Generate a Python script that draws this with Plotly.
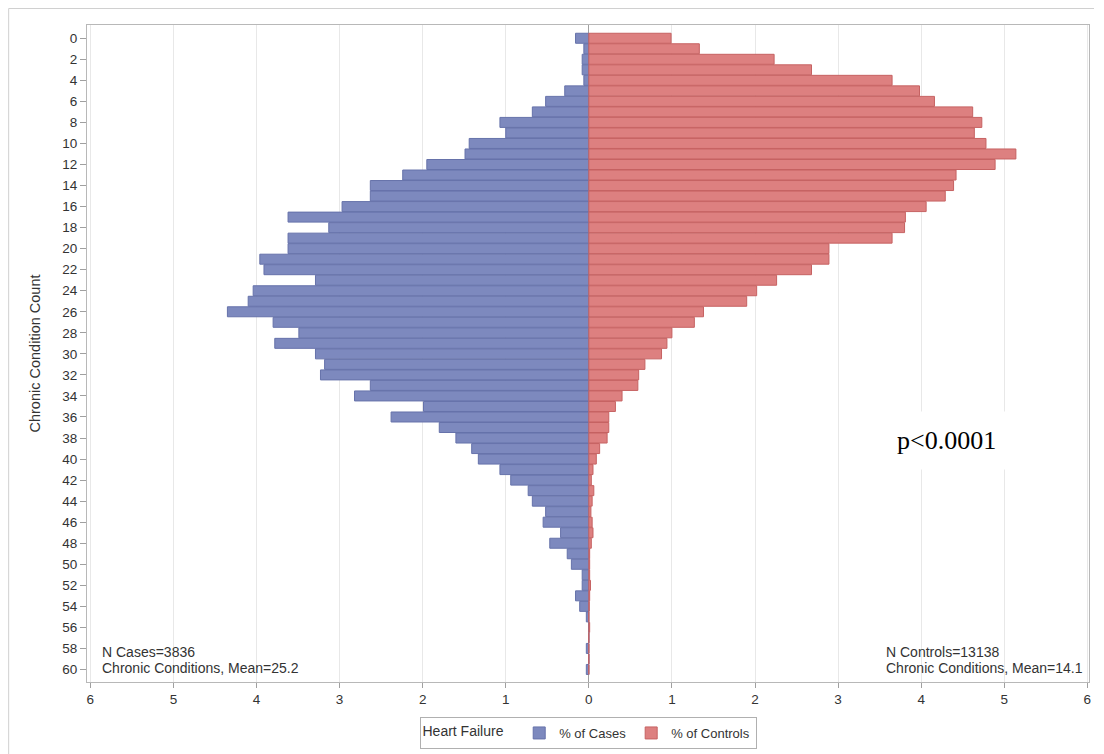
import plotly.graph_objects as go

counts = list(range(0, 61))

pct_cases = [0.16, 0.06, 0.08, 0.08, 0.06, 0.29, 0.52, 0.68, 1.07, 1.00,
             1.44, 1.49, 1.95, 2.24, 2.63, 2.63, 2.97, 3.62, 3.13, 3.62,
             3.62, 3.96, 3.91, 3.29, 4.04, 4.10, 4.35, 3.80, 3.49, 3.78,
             3.29, 3.18, 3.23, 2.63, 2.82, 1.99, 2.38, 1.80, 1.60, 1.41,
             1.33, 1.07, 0.94, 0.73, 0.68, 0.52, 0.55, 0.34, 0.47, 0.26,
             0.21, 0.08, 0.08, 0.16, 0.11, 0.03, 0.0, 0.0, 0.03, 0.0,
             0.03]

pct_controls = [0.99, 1.33, 2.23, 2.68, 3.65, 3.98, 4.16, 4.62, 4.73, 4.64,
                4.78, 5.14, 4.89, 4.42, 4.39, 4.29, 4.06, 3.81, 3.80, 3.65,
                2.89, 2.89, 2.68, 2.26, 2.02, 1.90, 1.38, 1.27, 1.00, 0.94,
                0.875, 0.675, 0.60, 0.59, 0.40, 0.32, 0.24, 0.24, 0.22, 0.13,
                0.09, 0.05, 0.03, 0.06, 0.04, 0.025, 0.04, 0.05, 0.03, 0.01,
                0.01, 0.01, 0.02, 0.01, 0.005, 0.0, 0.01, 0.0, 0.0, 0.0,
                0.0]

x_ticks = [-6, -5, -4, -3, -2, -1, 0, 1, 2, 3, 4, 5, 6]
x_tick_labels = [str(abs(v)) for v in x_ticks]
y_ticks = list(range(0, 61, 2))

FONT = "Liberation Sans, Arial, sans-serif"

# page has an 8px body margin; figure sized accordingly
W, H = 1088, 746
ML, MR, MT, MB = 79, 5, 17, 72
PW = W - ML - MR
PH = H - MT - MB

fig = go.Figure()
fig.add_trace(go.Bar(
    y=counts, x=[-v for v in pct_cases], orientation="h", name="% of Cases",
    marker=dict(color="#7d89be", line=dict(color="#6672aa", width=1)),
    width=0.95,
))
fig.add_trace(go.Bar(
    y=counts, x=pct_controls, orientation="h", name="% of Controls",
    marker=dict(color="#dd8080", line=dict(color="#c66262", width=1)),
    width=0.95,
))

fig.update_layout(
    width=W, height=H,
    margin=dict(l=ML, r=MR, t=MT, b=MB),
    barmode="overlay",
    bargap=0.05,
    plot_bgcolor="white", paper_bgcolor="white",
    font=dict(family=FONT, size=12, color="#333333"),
    showlegend=True,
    legend=dict(
        orientation="h", x=0.5, xanchor="center", y=-35 / PH, yanchor="top",
        title=dict(text="Heart Failure  ", side="left", font=dict(size=14, color="#333333")),
        bordercolor="#b0b0b0", borderwidth=1, bgcolor="white",
        font=dict(size=13, color="#333333"),
        itemwidth=30,
    ),
    xaxis=dict(
        range=[-6.04, 6.02], tickvals=x_ticks, ticktext=x_tick_labels,
        showgrid=True, gridcolor="#e8e8e8", gridwidth=1,
        zeroline=True, zerolinecolor="#a0a0a0", zerolinewidth=1,
        ticks="outside", ticklen=5, tickcolor="#a0a0a0",
        showline=True, linecolor="#b8b8b8", mirror=True,
        tickfont=dict(size=13.5, color="#333333"),
    ),
    yaxis=dict(
        range=[61.19, -1.26], tickvals=y_ticks,
        showgrid=False, zeroline=False,
        ticks="outside", ticklen=6, tickcolor="#a0a0a0",
        showline=True, linecolor="#b8b8b8", mirror=True,
        tickfont=dict(size=13.5, color="#333333"),
        title=dict(text="Chronic Condition Count", font=dict(size=14.5, color="#333333"), standoff=18),
    ),
)

ann_font = dict(family=FONT, size=14, color="#333333")
fig.add_annotation(x=13 / PW, xref="paper", y=58.3, yref="y", text="N Cases=3836",
                   showarrow=False, xanchor="left", yanchor="middle", font=ann_font)
fig.add_annotation(x=13 / PW, xref="paper", y=59.85, yref="y", text="Chronic Conditions, Mean=25.2",
                   showarrow=False, xanchor="left", yanchor="middle", font=ann_font)
fig.add_annotation(x=(886 - 590) / 83.33, xref="x", y=58.3, yref="y", text="N Controls=13138",
                   showarrow=False, xanchor="left", yanchor="middle", font=ann_font)
fig.add_annotation(x=(886 - 590) / 83.33, xref="x", y=59.85, yref="y", text="Chronic Conditions, Mean=14.1",
                   showarrow=False, xanchor="left", yanchor="middle", font=ann_font)
fig.add_annotation(x=4.30, xref="x", y=38.2, yref="y", text="p<0.0001",
                   showarrow=False, xanchor="center", yanchor="middle",
                   font=dict(family="Liberation Serif, Times New Roman, serif", size=26, color="black"),
                   bgcolor="white", borderpad=14)

# outer frame (SAS graph border)
fx = -(ML - 0.5) / PW
fy = 1 + (MT - 0.5) / PH
fig.add_shape(type="line", xref="paper", yref="paper",
              x0=fx, x1=1 + MR / PW, y0=fy, y1=fy,
              line=dict(color="#d0d0d0", width=1))
fig.add_shape(type="line", xref="paper", yref="paper",
              x0=fx, x1=fx, y0=fy, y1=-MB / PH,
              line=dict(color="#d0d0d0", width=1))

fig.write_html("out.html")
